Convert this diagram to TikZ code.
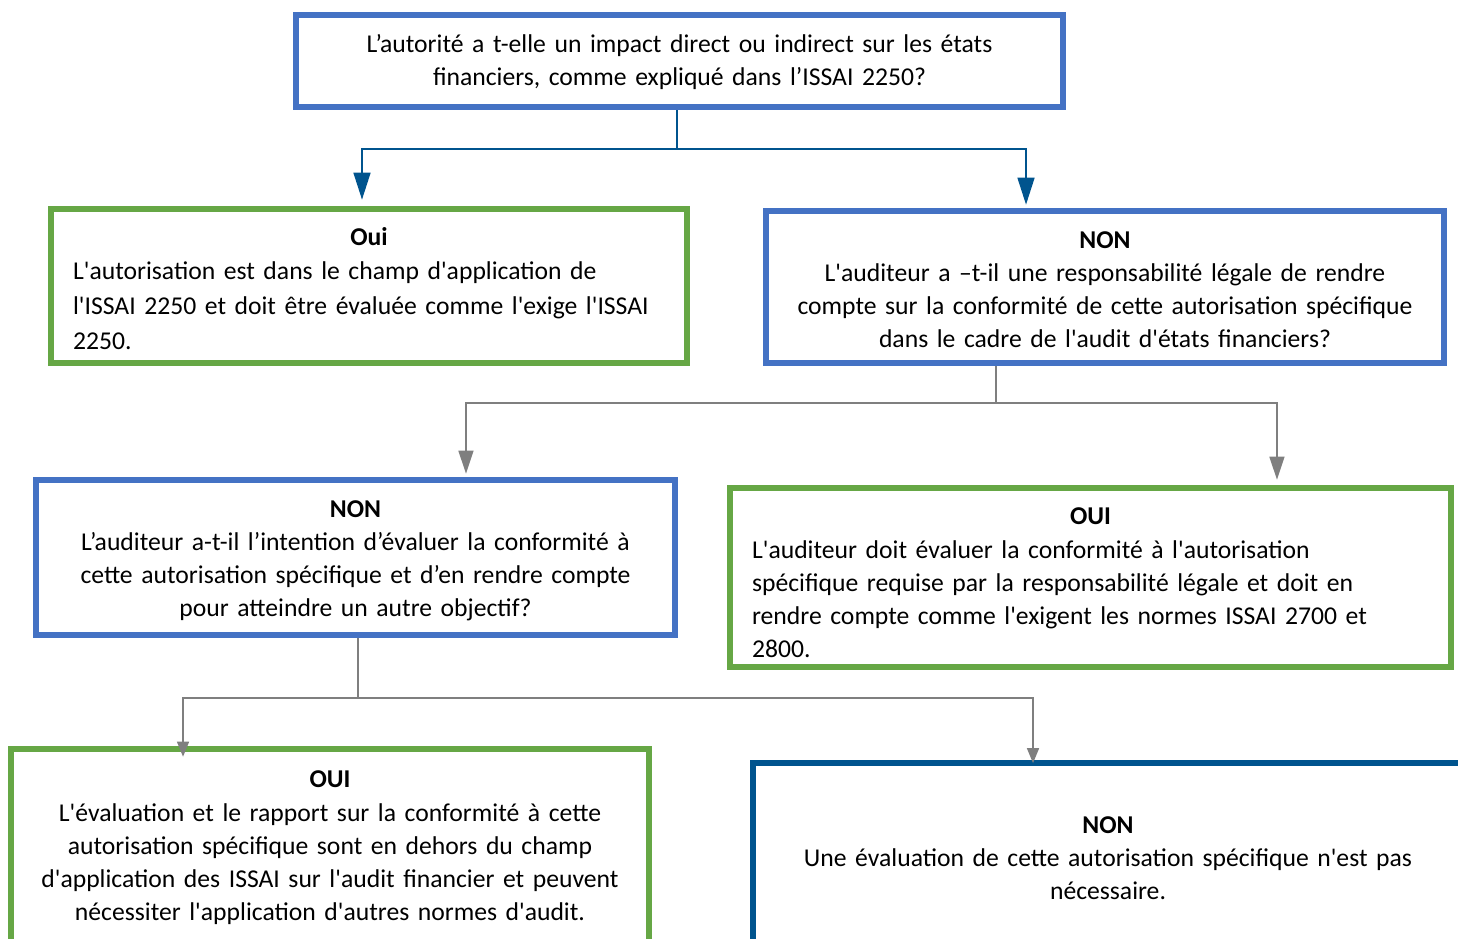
\documentclass[tikz,border=0pt]{standalone}
\usepackage{fontspec}
\setmainfont{Carlito}[Ligatures=TeXOff]
\usetikzlibrary{positioning,
        shapes,
        arrows.meta}
\definecolor{boxblue}{HTML}{4472C4}
\definecolor{boxgreen}{HTML}{66A745}
\definecolor{navy}{HTML}{00548E}
\definecolor{linkgray}{HTML}{7F7F7F}
\tikzset{
    qbox/.style={rectangle,draw,line width=0.125cm,fill=white,inner sep=0pt,
        font=\fontsize{14.6}{18.8}\selectfont},
    bluebox/.style={qbox,draw=boxblue},
    greenbox/.style={qbox,draw=boxgreen},
    navybox/.style={qbox,draw=navy},
    drop/.style={text height=0pt,text depth=#1},
    navylink/.style={draw=navy,line width=0.03cm,-{Triangle[width=0.34cm,length=0.54cm]}},
    graylink/.style={draw=linkgray,line width=0.03cm,-{Triangle[width=0.3cm,length=0.46cm]}},
    smalllink/.style={draw=linkgray,line width=0.03cm,-{Triangle[width=0.24cm,length=0.3cm]}}
}

\begin{document}
\begin{tikzpicture}[x=0.02cm,y=-0.02cm]
            \useasboundingbox (0,0) rectangle (1458,938);
            \clip (0,0) rectangle (1458,938);
            \node [bluebox,drop=0.36cm,minimum width=15.34cm,minimum height=1.84cm,text width=15cm,align=center] (q1) at (679.5,61)
                {L’autorité a t-elle un impact direct ou indirect sur les états\\ financiers, comme expliqué dans l’ISSAI 2250?};
            \node [greenbox,drop=1.64cm,minimum width=12.72cm,minimum height=3.08cm,text width=11.84cm,align=left] (oui1) at (369,286)
                {\makebox[\linewidth]{\textbf{Oui}}\\[1pt] L'autorisation est dans le champ d'application de\\[1pt] l'ISSAI 2250 et doit être évaluée comme l'exige l'ISSAI\\[1pt] 2250.};
            \node [bluebox,drop=1.56cm,minimum width=13.56cm,minimum height=3.04cm,text width=13cm,align=center] (q2) at (1105,287)
                {\textbf{NON}\\ L'auditeur a –t-il une responsabilité légale de rendre\\ compte sur la conformité de cette autorisation spécifique\\ dans le cadre de l'audit d'états financiers?};
            \node [bluebox,drop=1.62cm,minimum width=12.78cm,minimum height=3.1cm,text width=12.3cm,align=center] (q3) at (355.5,557.5)
                {\textbf{NON}\\ L’auditeur a-t-il l’intention d’évaluer la conformité à\\ cette autorisation spécifique et d’en rendre compte\\ pour atteindre un autre objectif?};
            \node [greenbox,drop=2.14cm,minimum width=14.42cm,minimum height=3.58cm,text width=13.54cm,align=left] (oui2) at (1090.5,577.5)
                {\makebox[\linewidth]{\textbf{OUI}}\\[1pt] L'auditeur doit évaluer la conformité à l'autorisation\\ spécifique requise par la responsabilité légale et doit en\\ rendre compte comme l'exigent les normes ISSAI 2700 et\\ 2800.};
            \node [greenbox,drop=2.36cm,minimum width=12.76cm,minimum height=3.88cm,text width=12.3cm,align=center] (oui3) at (330,846)
                {\textbf{OUI}\\[1pt] L'évaluation et le rapport sur la conformité à cette\\ autorisation spécifique sont en dehors du champ\\ d'application des ISSAI sur l'audit financier et peuvent\\ nécessiter l'application d'autres normes d'audit.};
            \node [navybox,drop=0.98cm,minimum width=14.2cm,minimum height=3.78cm,text width=13.6cm,align=center] (non3) at (1108,857.5)
                {\textbf{NON}\\ Une évaluation de cette autorisation spécifique n'est pas\\ nécessaire.};

            \coordinate (j1) at (677,149);
            \coordinate (j2) at (996,403);
            \coordinate (j3) at (358,698);

            \draw [draw=navy,line width=0.03cm] (q1.south -| j1) -- (j1);
            \draw [navylink] (j1) -| ([xshift=-0.14cm,yshift=0.125cm]oui1.north);
            \draw [navylink] (j1) -| ([xshift=-1.58cm,yshift=0.065cm]q2.north);

            \draw [draw=linkgray,line width=0.03cm] (q2.south -| j2) -- (j2);
            \draw [graylink] (j2) -| ([xshift=2.21cm,yshift=0.065cm]q3.north);
            \draw [graylink] (j2) -| ([xshift=3.73cm,yshift=0.105cm]oui2.north);

            \draw [draw=linkgray,line width=0.03cm] (q3.south -| j3) -- (j3);
            \draw [smalllink] (j3) -| ([xshift=-2.94cm,yshift=-0.215cm]oui3.north);
            \draw [smalllink] (j3) -| ([xshift=-1.5cm,yshift=-0.065cm]non3.north);
        \end{tikzpicture}
\end{document}
